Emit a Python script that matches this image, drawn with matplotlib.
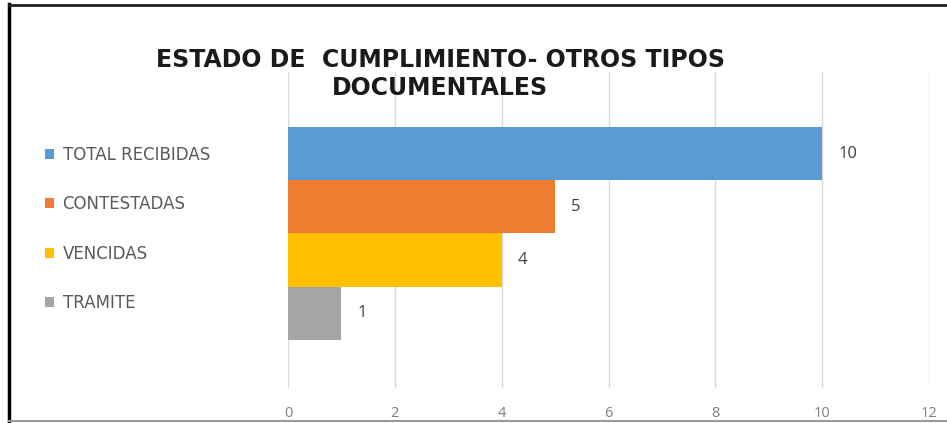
import matplotlib
matplotlib.use("Agg")
import matplotlib.pyplot as plt
from matplotlib.lines import Line2D
from matplotlib import font_manager

# Data
categories = ["TOTAL RECIBIDAS", "CONTESTADAS", "VENCIDAS", "TRAMITE"]
values = [10, 5, 4, 1]
colors = ["#5B9BD5", "#ED7D31", "#FFC000", "#A5A5A5"]
x_ticks = [0, 2, 4, 6, 8, 10, 12]
title = "ESTADO DE  CUMPLIMIENTO- OTROS TIPOS\nDOCUMENTALES"

available = {f.name for f in font_manager.fontManager.ttflist}
title_font = "Liberation Sans Narrow" if "Liberation Sans Narrow" in available else "DejaVu Sans"

W, H = 947, 423
fig = plt.figure(figsize=(W / 100, H / 100), dpi=100)
fig.patch.set_facecolor("white")

# plot area in pixel terms
left, right, top, bottom = 288, 929, 72, 388
ax = fig.add_axes([left / W, 1 - bottom / H, (right - left) / W, (bottom - top) / H])

bars = []
for i, (cat, val, col) in enumerate(zip(categories, values, colors)):
    b = ax.barh(i, val, height=1.0, color=col, label=cat, zorder=2)
    bars.append(b)
    ax.text(val + 0.3, i, str(val), va="center", ha="left",
            fontsize=12, color="#404040", family="Open Sans")

ax.set_xlim(0, 12)
ax.set_ylim(4.4, -1.53)
ax.set_xticks(x_ticks)
ax.set_xticklabels([str(t) for t in x_ticks], family="Open Sans",
                   fontsize=10.5, color="#7f7f7f")
ax.tick_params(axis="x", length=0, pad=13)
ax.set_yticks([])
ax.grid(axis="x", color="#d9d9d9", linewidth=1, zorder=0)
for s in ax.spines.values():
    s.set_visible(False)

# legend on the left
leg = fig.legend(handles=[b[0] for b in bars], labels=categories,
                 loc="upper left", bbox_to_anchor=(45 / W, 1 - 146 / H),
                 frameon=False, handlelength=0.55,
                 handleheight=0.55, handletextpad=0.5, labelspacing=1.88,
                 borderaxespad=0, borderpad=0,
                 prop={"family": "DejaVu Sans", "size": 12})
for t in leg.get_texts():
    t.set_color("#595959")

# title
fig.text(440 / W, 1 - 74 / H, title, ha="center", va="center",
         fontsize=17, fontweight="bold", color="#1a1a1a",
         family=title_font, linespacing=1.2)

# outer frame
fig.add_artist(Line2D([9 / W, 9 / W], [0, 1 - 4 / H], color="black",
                      linewidth=2.5, transform=fig.transFigure))
fig.add_artist(Line2D([9 / W, 1], [1 - 5 / H, 1 - 5 / H], color="#222222",
                      linewidth=2, transform=fig.transFigure))
fig.add_artist(Line2D([9 / W, 1], [1 - 421 / H, 1 - 421 / H], color="#9a9a9a",
                      linewidth=1.5, transform=fig.transFigure))

fig.savefig("out.png", dpi=100, facecolor="white")
